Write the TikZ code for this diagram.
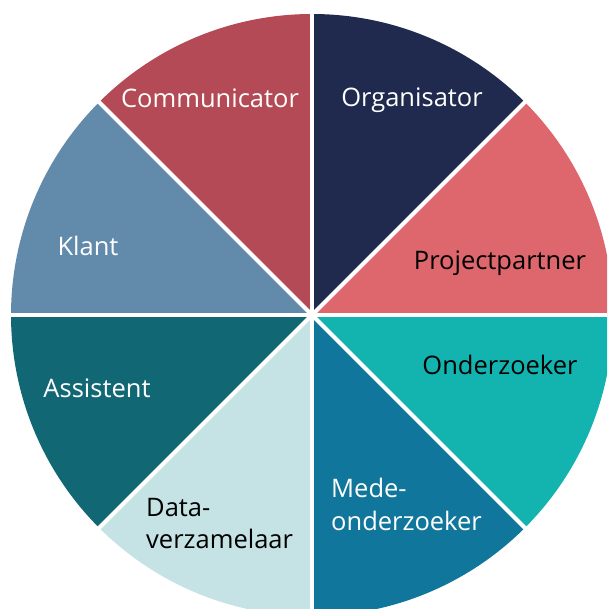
\documentclass[tikz,border=0pt]{standalone}
\usepackage{fontspec}
\setmainfont{Open Sans}
\definecolor{cComm}{RGB}{179,74,85}
\definecolor{cOrg}{RGB}{31,42,78}
\definecolor{cProj}{RGB}{222,102,109}
\definecolor{cOnd}{RGB}{19,179,175}
\definecolor{cMede}{RGB}{17,118,156}
\definecolor{cData}{RGB}{197,226,228}
\definecolor{cAss}{RGB}{17,103,116}
\definecolor{cKlant}{RGB}{98,138,170}
\tikzset{
  lbl/.style={font=\fontsize{25.5}{32.5}\selectfont, inner sep=0pt},
  lblw/.style={lbl, text=white},
  lblb/.style={lbl, text=black},
}
\begin{document}
\begin{tikzpicture}[x=1pt,y=1pt]
\useasboundingbox (0,0) rectangle (607,609);
\coordinate (O) at (312,294);
\begin{scope}
\clip (0,0) rectangle (607,609);
\foreach \a/\c in {0/cProj,45/cOrg,90/cComm,135/cKlant,180/cAss,225/cData,270/cMede,315/cOnd}{
  \fill[\c] (O) -- ++(\a:301) arc[start angle=\a, end angle=\a+45, radius=301] -- cycle;
}
\foreach \a in {0,45,...,315}{
  \draw[white, line width=4pt] (O) -- ++(\a:310);
}
\end{scope}
\node[lblw] (comm) at (210,511) {Communicator};
\node[lblw] (org) at (412,509) {Organisator};
\node[lblb] (proj) at (500,346) {Projectpartner};
\node[lblw] (klant) at (88,363) {Klant};
\node[lblb] (ond) at (500,244) {Onderzoeker};
\node[lblw] (ass) at (97,221) {Assistent};
\node[lblw, align=left, anchor=north west] (mede) at (331,131) {Mede-\\onderzoeker};
\node[lblb, align=left, anchor=north west] (data) at (146,111) {Data-\\verzamelaar};
\end{tikzpicture}
\end{document}
